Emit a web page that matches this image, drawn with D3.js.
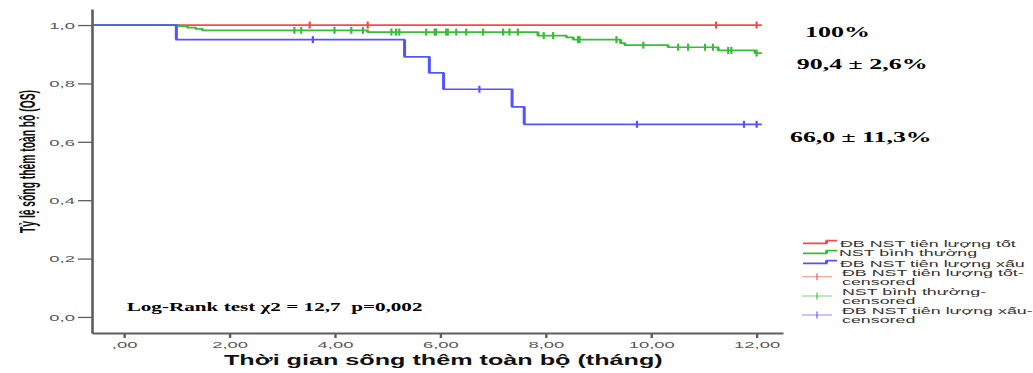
<!DOCTYPE html>
<html><head><meta charset="utf-8">
<script src="https://cdn.jsdelivr.net/npm/d3@7"></script>
<style>body{margin:0;background:#fff}svg{display:block}</style>
</head><body><svg id="c" width="1033" height="373"></svg>
<script>
// ---------- data ----------
const xTicks = [0, 2, 4, 6, 8, 10, 12];
const yTicks = [0, 0.2, 0.4, 0.6, 0.8, 1.0];
const groupNames = ["ĐB NST tiên lượng tốt", "NST bình thường", "ĐB NST tiên lượng xấu"];
const groupColors = ["#f04c4c", "#38bd38", "#5454ff"];

const redTimes = [0];
const redSurv = [1.0];
const redCensor = [3.52, 4.62, 11.23, 12.0];

const greenTimes = [0, 1.04, 1.20, 1.36, 1.48, 4.62, 7.85, 8.39, 8.52, 9.42, 9.50, 10.32, 11.27, 11.97];
const greenSurv  = [1.0, 0.996, 0.991, 0.987, 0.982, 0.976, 0.964, 0.958, 0.950, 0.938, 0.931, 0.924, 0.913, 0.904];
const greenCensor = [3.23, 3.36, 3.99, 4.31, 4.53, 5.07, 5.16, 5.22, 5.73, 5.89, 5.92, 6.11, 6.14, 6.30, 6.49,
  6.81, 7.19, 7.31, 7.47, 7.96, 8.14, 8.61, 8.64, 9.34, 9.85, 10.51, 10.70, 11.02, 11.17, 11.46, 11.52, 12.0];

const blueTimes = [0, 0.99, 5.32, 5.79, 6.06, 7.36, 7.59];
const blueSurv  = [1.0, 0.950, 0.891, 0.836, 0.780, 0.720, 0.660];
const blueCensor = [3.58, 6.74, 9.73, 11.76, 12.0];

const endTime = 12.1;
const survLabels = ["100%", "90,4 ± 2,6%", "66,0 ± 11,3%"];
const testLabel = "Log-Rank test χ2 = 12,7  p=0,002";
const xTitle = "Thời gian sống thêm toàn bộ (tháng)";
const yTitle = "Tỷ lệ sống thêm toàn bộ (OS)";
const legendLabels = [
  ["ĐB NST tiên lượng tốt"], ["NST bình thường"], ["ĐB NST tiên lượng xấu"],
  ["ĐB NST tiên lượng tốt-", "censored"], ["NST bình thường-", "censored"], ["ĐB NST tiên lượng xấu-", "censored"]
];

// ---------- setup ----------
const svg = d3.select("#c");
const x = d3.scaleLinear().domain([-0.61, 12.5]).range([92, 783]);
const y = d3.scaleLinear().domain([-0.055, 1.055]).range([333, 9]);
const axisColor = "#5e5e5e";

function stretch(sel, sx) {
  sel.each(function () {
    const t = d3.select(this);
    const tx = +t.attr("x") || 0, ty = +t.attr("y") || 0;
    t.attr("x", 0).attr("y", 0).attr("transform", `translate(${tx},${ty}) scale(${sx},1)`);
  });
}
function fitWidth(t, w, sy) {
  const n = t.node().getComputedTextLength();
  const tx = +t.attr("x") || 0, ty = +t.attr("y") || 0;
  t.attr("x", 0).attr("y", 0).attr("transform", `translate(${tx},${ty}) scale(${w / n},${sy || 1})`);
}

// ---------- axes ----------
const fmtX = d => d === 0 ? ",00" : d3.format(".2f")(d).replace(".", ",");
const fmtY = d => d3.format(".1f")(d).replace(".", ",");

const gy = svg.append("g").attr("transform", `translate(${x.range()[0]},0)`)
  .call(d3.axisLeft(y).tickValues(yTicks).tickFormat(fmtY).tickSize(14).tickSizeOuter(0).tickPadding(3));
gy.select(".domain").attr("stroke", axisColor).attr("stroke-width", 2.6);
gy.selectAll(".tick line").attr("stroke", axisColor).attr("stroke-width", 1.3);
gy.selectAll(".tick text").attr("fill", "#585858").style("font-family", "Liberation Sans, Arial, sans-serif")
  .style("font-size", "9px").attr("dy", "0.36em");
stretch(gy.selectAll(".tick text"), 2.05);

const gx = svg.append("g").attr("transform", `translate(0,${y.range()[0]})`)
  .call(d3.axisBottom(x).tickValues(xTicks).tickFormat(fmtX).tickSize(5).tickSizeOuter(0).tickPadding(4));
gx.select(".domain").attr("stroke", axisColor).attr("stroke-width", 2);
gx.selectAll(".tick line").attr("stroke", axisColor).attr("stroke-width", 2.4);
gx.selectAll(".tick text").attr("fill", "#585858").style("font-family", "Liberation Sans, Arial, sans-serif")
  .style("font-size", "9px");
stretch(gx.selectAll(".tick text"), 2.05);

// ---------- curves ----------
function survAt(times, surv, t) {
  let v = surv[0];
  for (let i = 0; i < times.length; i++) if (times[i] <= t) v = surv[i];
  return v;
}
const series = [
  {times: redTimes, surv: redSurv, censor: redCensor, color: groupColors[0]},
  {times: greenTimes, surv: greenSurv, censor: greenCensor, color: groupColors[1]},
  {times: blueTimes, surv: blueSurv, censor: blueCensor, color: groupColors[2]}
];
series.forEach(s => {
  let p = d3.path();
  p.moveTo(x.range()[0] + 1, y(s.surv[0]));
  let v = d3.path();
  for (let i = 1; i < s.times.length; i++) {
    p.lineTo(x(s.times[i]), y(s.surv[i - 1]));
    p.lineTo(x(s.times[i]), y(s.surv[i]));
    v.moveTo(x(s.times[i]), y(s.surv[i - 1]));
    v.lineTo(x(s.times[i]), y(s.surv[i]));
  }
  p.lineTo(x(endTime), y(s.surv[s.surv.length - 1]));
  const g = svg.append("g");
  g.append("path").attr("d", p.toString()).attr("fill", "none").attr("stroke", s.color).attr("stroke-width", 1.7);
  g.append("path").attr("d", v.toString()).attr("fill", "none").attr("stroke", s.color).attr("stroke-width", 3);
  g.selectAll("line.c").data(s.censor).join("line")
    .attr("x1", d => x(d)).attr("x2", d => x(d))
    .attr("y1", d => y(survAt(s.times, s.surv, d)) - 3.5)
    .attr("y2", d => y(survAt(s.times, s.surv, d)) + 3.5)
    .attr("stroke", s.color).attr("stroke-width", 2.2);
});

// ---------- titles ----------
const xt = svg.append("text").attr("x", 224).attr("y", 365).text(xTitle)
  .style("font-family", "Liberation Sans, Arial, sans-serif").style("font-weight", "bold").style("font-size", "14px")
  .attr("fill", "#111");
fitWidth(xt, 439);

const yt = svg.append("text").text(yTitle).attr("text-anchor", "middle")
  .style("font-family", "Liberation Sans Narrow, Liberation Sans, Arial, sans-serif").style("font-weight", "bold")
  .style("font-size", "11.5px").attr("fill", "#111");
{
  const n = yt.node().getComputedTextLength();
  yt.attr("transform", `translate(35,161.5) rotate(-90) scale(${143 / n},1.85)`);
}

// ---------- annotations ----------
const serif = "Liberation Serif, Times New Roman, serif";
const annPos = [[805, 36.7, 65], [796.7, 69.3, 131], [790, 141.7, 141.7]];
survLabels.forEach((s, i) => {
  const t = svg.append("text").attr("x", annPos[i][0]).attr("y", annPos[i][1]).text(s)
    .style("font-family", serif).style("font-weight", "bold").style("font-size", "15px").attr("fill", "#000");
  fitWidth(t, annPos[i][2]);
});
const lt = svg.append("text").attr("x", 126.7).attr("y", 310.7).text(testLabel)
  .style("font-family", serif).style("font-weight", "bold").style("font-size", "12px").attr("fill", "#000")
  .attr("xml:space", "preserve").style("white-space", "pre");
fitWidth(lt, 296);

// ---------- legend ----------
const lg = svg.append("g");
const legBase = [[246.5], [256], [266.5], [276.2, 285.4], [294.6, 303.8], [313.8, 323]];
const legX = [840, 839, 840, 842, 842, 842];
const stepY = [242, 252, 262];
const censY = [276.7, 296, 315];
legendLabels.forEach((lines, i) => {
  lines.forEach((ln, j) => {
    const t = lg.append("text").attr("x", legX[i]).attr("y", legBase[i][j]).text(ln)
      .style("font-family", "Liberation Sans, Arial, sans-serif").style("font-size", "9.8px").attr("fill", "#333");
    stretch(t, 1.82);
  });
  if (i < 3) {
    const c = groupColors[i], yy = stepY[i];
    const p = d3.path();
    p.moveTo(803, yy + 1.4); p.lineTo(826.5, yy + 1.4); p.lineTo(826.5, yy - 1.4); p.lineTo(837, yy - 1.4);
    lg.append("path").attr("d", p.toString()).attr("fill", "none").attr("stroke", c).attr("stroke-width", 1.7);
    lg.append("line").attr("x1", 826.5).attr("x2", 826.5).attr("y1", yy + 1.4).attr("y2", yy - 1.4)
      .attr("stroke", c).attr("stroke-width", 3);
  } else {
    const c = groupColors[i - 3], yy = censY[i - 3];
    lg.append("line").attr("x1", 802).attr("x2", 832).attr("y1", yy).attr("y2", yy)
      .attr("stroke", c).attr("stroke-width", 1.2).attr("opacity", 0.55);
    lg.append("line").attr("x1", 817).attr("x2", 817).attr("y1", yy - 3.5).attr("y2", yy + 3.5)
      .attr("stroke", c).attr("stroke-width", 2).attr("opacity", 0.55);
  }
});
</script></body></html>
